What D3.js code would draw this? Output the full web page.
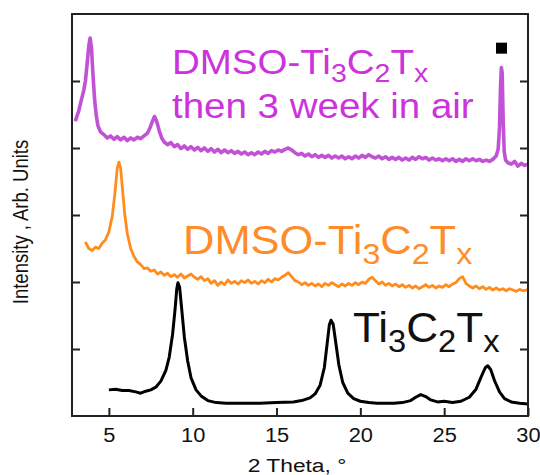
<!DOCTYPE html>
<html>
<head>
<meta charset="utf-8">
<script src="https://cdn.jsdelivr.net/npm/d3@7"></script>
<style>
  html, body { margin: 0; padding: 0; background: #fff; }
  svg { display: block; font-family: "Liberation Sans", Arial, sans-serif; }
</style>
</head>
<body>
<svg id="chart" width="540" height="475"></svg>
<script>
// XRD patterns, 2θ (degrees) vs. intensity (arbitrary units, curves stacked with offsets)

// Pristine Ti3C2Tx
const pristine = [
  [5.0,0.39],[5.4,0.40],[5.8,0.38],[6.2,0.38],[6.6,0.36],[6.9,0.34],[7.2,0.37],[7.5,0.39],
  [7.8,0.43],[8.1,0.52],[8.4,0.68],[8.6,0.88],[8.8,1.22],[8.95,1.6],[9.05,1.9],[9.12,1.99],
  [9.22,1.92],[9.35,1.58],[9.5,1.18],[9.7,0.82],[9.9,0.57],[10.2,0.39],[10.5,0.3],[10.9,0.23],
  [11.4,0.2],[12,0.19],[13,0.19],[14,0.19],[15,0.2],[16,0.21],[16.5,0.23],[17,0.27],
  [17.3,0.33],[17.6,0.46],[17.85,0.72],[18.02,1.08],[18.15,1.36],[18.25,1.43],[18.38,1.37],
  [18.52,1.12],[18.72,0.76],[18.95,0.5],[19.25,0.34],[19.6,0.26],[20,0.22],[20.5,0.2],
  [21,0.19],[21.5,0.19],[22,0.19],[22.5,0.2],[23.0,0.23],[23.3,0.28],[23.6,0.32],[23.9,0.29],
  [24.2,0.24],[24.6,0.21],[25.0,0.22],[25.5,0.2],[26,0.22],[26.5,0.28],[26.9,0.4],[27.2,0.58],
  [27.45,0.72],[27.6,0.75],[27.78,0.69],[28.0,0.53],[28.3,0.36],[28.6,0.26],[29,0.21],
  [29.5,0.19],[30,0.18]
];

// DMSO-intercalated Ti3C2Tx
const dmso = [
  [3.6,2.60],[3.7,2.55],[3.8,2.50],[4.0,2.47],[4.2,2.52],[4.4,2.50],[4.6,2.58],[4.8,2.63],
  [5.0,2.75],[5.2,2.98],[5.35,3.3],[5.5,3.7],[5.6,3.79],[5.7,3.7],[5.8,3.42],[5.95,3.0],
  [6.1,2.72],[6.3,2.5],[6.5,2.38],[6.7,2.30],[6.9,2.26],[7.1,2.20],[7.3,2.21],[7.5,2.16],
  [7.7,2.18],[7.9,2.12],[8.1,2.15],[8.3,2.10],[8.5,2.13],[8.7,2.08],[8.9,2.11],[9.1,2.07],
  [9.3,2.12],[9.5,2.06],[9.7,2.09],[9.9,2.12],[10.1,2.07],[10.3,2.04],[10.5,2.08],[10.7,2.02],
  [10.9,2.05],[11.1,1.98],[11.3,2.02],[11.5,1.95],[11.7,2.00],[11.9,1.96],[12.1,2.03],[12.3,1.98],
  [12.5,2.01],[12.7,1.97],[12.9,2.02],[13.1,1.99],[13.3,2.03],[13.5,1.98],[13.7,2.01],[13.9,1.97],
  [14.1,2.02],[14.3,1.99],[14.5,2.04],[14.7,2.00],[14.9,2.05],[15.1,2.03],[15.3,2.07],[15.5,2.10],
  [15.7,2.14],[15.9,2.08],[16.1,2.02],[16.3,2.00],[16.5,1.96],[16.7,1.99],[16.9,1.95],[17.1,1.98],
  [17.3,1.94],[17.5,1.97],[17.7,1.93],[17.9,1.98],[18.1,1.95],[18.3,1.99],[18.5,1.96],[18.7,1.93],
  [18.9,1.97],[19.1,1.94],[19.3,1.98],[19.5,1.95],[19.7,1.99],[19.9,1.96],[20.1,2.00],[20.3,1.98],
  [20.5,2.04],[20.7,2.07],[20.9,2.02],[21.1,1.97],[21.3,2.00],[21.5,1.95],[21.7,1.98],[21.9,1.94],
  [22.1,1.97],[22.3,1.93],[22.5,1.96],[22.7,1.92],[22.9,1.95],[23.1,1.91],[23.3,1.94],[23.5,1.90],
  [23.7,1.93],[23.9,1.96],[24.1,1.92],[24.3,1.95],[24.5,1.91],[24.7,1.94],[24.9,1.92],[25.1,1.96],
  [25.3,1.93],[25.5,1.97],[25.7,1.99],[25.9,2.05],[26.1,2.08],[26.3,1.98],[26.5,1.94],[26.7,1.91],
  [26.9,1.94],[27.1,1.90],[27.3,1.93],[27.5,1.89],[27.7,1.92],[27.9,1.88],[28.1,1.91],[28.3,1.88],
  [28.5,1.90],[28.7,1.87],[28.9,1.90],[29.1,1.88],[29.3,1.86],[29.5,1.89],[29.7,1.87],[29.9,1.88],
  [30.0,1.89]
];

// DMSO-Ti3C2Tx after 3 weeks in air
const dmsoAged = [
  [3.0,4.40],[3.1,4.48],[3.2,4.55],[3.3,4.66],[3.4,4.76],[3.5,4.86],[3.6,5.00],[3.7,5.25],
  [3.8,5.52],[3.88,5.64],[3.96,5.50],[4.05,5.10],[4.15,4.72],[4.25,4.48],[4.35,4.33],[4.5,4.24],
  [4.7,4.20],[4.9,4.15],[5.1,4.18],[5.3,4.13],[5.5,4.17],[5.7,4.12],[5.9,4.16],[6.1,4.11],
  [6.3,4.15],[6.5,4.12],[6.7,4.16],[6.9,4.14],[7.1,4.18],[7.3,4.22],[7.45,4.30],[7.6,4.40],
  [7.72,4.47],[7.85,4.40],[8.0,4.26],[8.15,4.15],[8.3,4.09],[8.5,4.05],[8.7,4.08],[8.9,4.02],
  [9.1,4.05],[9.3,3.99],[9.5,4.03],[9.7,3.98],[9.9,4.02],[10.1,3.97],[10.3,4.01],[10.5,3.96],
  [10.7,4.00],[10.9,3.95],[11.1,3.99],[11.3,3.94],[11.5,3.98],[11.7,3.93],[11.9,3.97],[12.1,3.93],
  [12.3,3.96],[12.5,3.92],[12.7,3.95],[12.9,3.91],[13.1,3.94],[13.3,3.90],[13.5,3.93],[13.7,3.90],
  [13.9,3.94],[14.1,3.91],[14.3,3.95],[14.5,3.92],[14.7,3.96],[14.9,3.94],[15.1,3.97],[15.3,3.95],
  [15.5,3.98],[15.7,4.00],[15.9,3.97],[16.1,3.93],[16.3,3.90],[16.5,3.92],[16.7,3.88],[16.9,3.91],
  [17.1,3.87],[17.3,3.90],[17.5,3.86],[17.7,3.89],[17.9,3.86],[18.1,3.89],[18.3,3.85],[18.5,3.88],
  [18.7,3.85],[18.9,3.88],[19.1,3.84],[19.3,3.87],[19.5,3.84],[19.7,3.88],[19.9,3.85],[20.1,3.89],
  [20.3,3.86],[20.5,3.90],[20.7,3.87],[20.9,3.85],[21.1,3.88],[21.3,3.84],[21.5,3.87],[21.7,3.83],
  [21.9,3.86],[22.1,3.83],[22.3,3.86],[22.5,3.82],[22.7,3.85],[22.9,3.82],[23.1,3.86],[23.3,3.83],
  [23.5,3.87],[23.7,3.84],[23.9,3.86],[24.1,3.82],[24.3,3.85],[24.5,3.82],[24.7,3.84],[24.9,3.81],
  [25.1,3.84],[25.3,3.81],[25.5,3.84],[25.7,3.80],[25.9,3.83],[26.1,3.80],[26.3,3.84],[26.5,3.81],
  [26.7,3.84],[26.9,3.81],[27.1,3.83],[27.3,3.80],[27.5,3.82],[27.7,3.80],[27.9,3.83],[28.1,3.88],
  [28.22,3.98],[28.3,4.30],[28.36,4.90],[28.41,5.20],[28.46,5.12],[28.52,4.40],[28.58,3.95],
  [28.66,3.82],[28.8,3.78],[29.0,3.76],[29.2,3.80],[29.4,3.73],[29.6,3.77],[29.8,3.74],[30.0,3.76]
];

// Impurity reflection marker (■)
const impurityMarks = [[28.42, 5.49]];

const xTicks = [5, 10, 15, 20, 25, 30];
const yTicks = [1, 2, 3, 4, 5];
const xDomain = [2.8, 30];
const yDomain = [0, 6];

const svg = d3.select("#chart");
const box = { left: 72, right: 528, top: 14, bottom: 416 };
const fontStack = '"Liberation Sans", Arial, sans-serif';

const x = d3.scaleLinear().domain(xDomain).range([box.left, box.right]);
const y = d3.scaleLinear().domain(yDomain).range([box.bottom, box.top]);

svg.append("defs").append("clipPath").attr("id", "plot-clip")
  .append("rect")
  .attr("x", box.left).attr("y", box.top)
  .attr("width", box.right - box.left).attr("height", box.bottom - box.top);

// Axes with inward ticks
const axisColor = "#222";
const gx = svg.append("g")
  .attr("transform", `translate(0,${box.bottom})`)
  .call(d3.axisBottom(x).tickValues(xTicks).tickSizeInner(-8).tickSizeOuter(0).tickPadding(12));
gx.selectAll("text")
  .attr("font-size", 19.5).attr("fill", "#111").attr("font-family", fontStack)
  .attr("transform", "scale(1.12,1)");

const gl = svg.append("g")
  .attr("transform", `translate(${box.left},0)`)
  .call(d3.axisLeft(y).tickValues(yTicks).tickSizeInner(-8).tickSizeOuter(0).tickFormat(""));
const gr = svg.append("g")
  .attr("transform", `translate(${box.right},0)`)
  .call(d3.axisRight(y).tickValues(yTicks).tickSizeInner(-8).tickSizeOuter(0).tickFormat(""));

[gx, gl, gr].forEach(g => {
  g.select(".domain").remove();
  g.selectAll(".tick line").attr("stroke", axisColor).attr("stroke-width", 2);
});

// Curves
const line = d3.line().x(d => x(d[0])).y(d => y(d[1]));
const plot = svg.append("g").attr("clip-path", "url(#plot-clip)");

plot.append("path").datum(dmsoAged)
  .attr("d", line).attr("fill", "none")
  .attr("stroke", "#c152d6").attr("stroke-width", 3.6).attr("stroke-linejoin", "round");
plot.append("path").datum(dmso)
  .attr("d", line).attr("fill", "none")
  .attr("stroke", "#ff8c1c").attr("stroke-width", 2.8).attr("stroke-linejoin", "round");
plot.append("path").datum(pristine)
  .attr("d", line).attr("fill", "none")
  .attr("stroke", "#000").attr("stroke-width", 3).attr("stroke-linejoin", "round");

plot.selectAll("rect.mark").data(impurityMarks).join("rect")
  .attr("class", "mark")
  .attr("x", d => x(d[0]) - 5.5).attr("y", d => y(d[1]) - 5.5)
  .attr("width", 11).attr("height", 11).attr("fill", "#000");

// Frame
svg.append("rect")
  .attr("x", box.left).attr("y", box.top)
  .attr("width", box.right - box.left).attr("height", box.bottom - box.top)
  .attr("fill", "none").attr("stroke", axisColor).attr("stroke-width", 2);

// Labels with chemical-formula subscripts
function formula(t, parts, size) {
  let lowered = false;
  parts.forEach(p => {
    const ts = t.append("tspan").text(p.t);
    if (p.sub) {
      ts.attr("font-size", size * 0.74).attr("dy", lowered ? 0 : size * 0.24);
      lowered = true;
    } else {
      if (lowered) ts.attr("dy", -size * 0.24);
      lowered = false;
    }
  });
}

const mxene = [{t: "Ti"}, {t: "3", sub: true}, {t: "C"}, {t: "2", sub: true}, {t: "T"}, {t: "x", sub: true}];

function label(px, py, size, sx, color) {
  return svg.append("text")
    .attr("transform", `translate(${px},${py}) scale(${sx},1)`)
    .attr("font-size", size).attr("fill", color);
}

formula(label(172, 74, 35, 1.1, "#cc33dd"), [{t: "DMSO-"}, ...mxene], 35);
label(172, 118, 35, 1.1, "#cc33dd").text("then 3 week in air");

formula(label(183, 254, 41, 1.06, "#ff8c2a"), [{t: "DMSO-"}, ...mxene], 41);

formula(label(353, 342, 42, 1.05, "#111"), mxene, 42);

// Axis titles
svg.append("text")
  .attr("transform", "translate(297,472) scale(1.2,1)")
  .attr("text-anchor", "middle").attr("font-size", 19).attr("fill", "#111")
  .text("2 Theta, °");
svg.append("text")
  .attr("transform", "translate(28,222) scale(1.2,1) rotate(-90)")
  .attr("text-anchor", "middle").attr("font-size", 18.5).attr("fill", "#111")
  .text("Intensity , Arb. Units");
</script>
</body>
</html>
